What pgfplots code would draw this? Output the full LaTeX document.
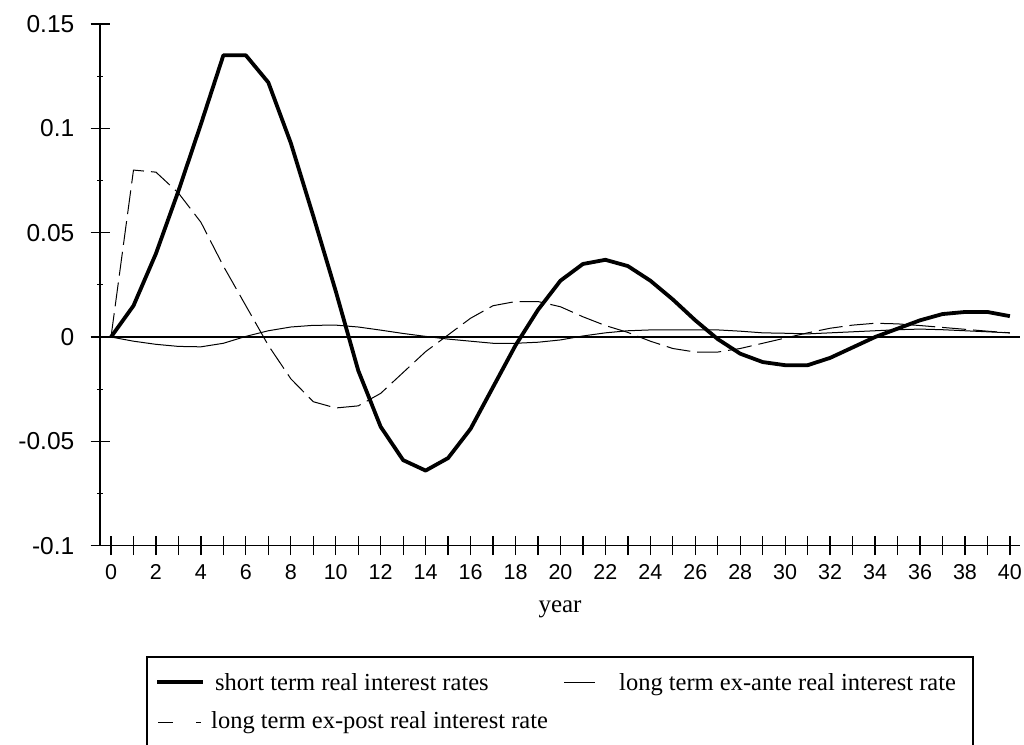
\documentclass[border=0pt]{standalone}
\usepackage{fontspec}
\setmainfont{Liberation Serif}
\newfontfamily\tickfont{Liberation Sans}
\usepackage{pgfplots}
\usepackage{pgfplotstable}
\pgfplotsset{compat=1.18}
\pgfplotstableread{
x short ante post
0 0 0 0
1 0.015 -0.002 0.080
2 0.040 -0.0035 0.079
3 0.070 -0.0045 0.069
4 0.102 -0.0047 0.055
5 0.135 -0.003 0.034
6 0.135 0.0003 0.015
7 0.122 0.003 -0.004
8 0.093 0.0048 -0.020
9 0.058 0.0056 -0.031
10 0.022 0.0057 -0.034
11 -0.016 0.0048 -0.033
12 -0.043 0.0033 -0.027
13 -0.059 0.0017 -0.017
14 -0.064 0.0003 -0.007
15 -0.058 -0.001 0.001
16 -0.044 -0.002 0.009
17 -0.024 -0.003 0.015
18 -0.004 -0.003 0.017
19 0.013 -0.0025 0.017
20 0.027 -0.0014 0.0145
21 0.035 0.0005 0.0097
22 0.037 0.002 0.0055
23 0.034 0.003 0.0022
24 0.027 0.0034 -0.002
25 0.018 0.0034 -0.0055
26 0.008 0.0034 -0.0072
27 -0.001 0.0034 -0.0072
28 -0.008 0.0028 -0.0055
29 -0.012 0.002 -0.003
30 -0.0135 0.0018 -0.0005
31 -0.0135 0.0015 0.002
32 -0.010 0.002 0.0042
33 -0.005 0.0025 0.0057
34 0.000 0.003 0.0066
35 0.004 0.0035 0.0063
36 0.008 0.0038 0.0055
37 0.011 0.0035 0.0046
38 0.012 0.003 0.0037
39 0.012 0.0025 0.0028
40 0.010 0.002 0.002
}\datatable
\begin{document}
\begin{tikzpicture}[x=1pt,y=1pt]
\path[use as bounding box] (0,0) rectangle (1024,744);
\begin{axis}[
  at={(100pt,198.3pt)}, anchor=south west,
  scale only axis, width=920pt, height=521.7pt,
  xmin=-0.49, xmax=40.45, ymin=-0.1, ymax=0.15,
  axis x line=bottom, axis y line=left,
  axis line style={-, line width=1.3pt, black},
  every tick/.style={black, line width=1.3pt},
  tick align=center,
  major tick length=19pt, minor tick length=6pt,
  xtick={0,...,40},
  xticklabels={0,,2,,4,,6,,8,,10,,12,,14,,16,,18,,20,,22,,24,,26,,28,,30,,32,,34,,36,,38,,40},
  ytick={-0.1,-0.05,0,0.05,0.1,0.15},
  yticklabels={-0.1,-0.05,0,0.05,0.1,0.15},
  minor ytick={-0.075,-0.025,0.025,0.075,0.125},
  scaled y ticks=false,
  yticklabel style={font=\tickfont\fontsize{24.5}{28}\selectfont, inner sep=0pt, anchor=east, xshift=-16pt},
  xticklabel style={font=\tickfont\fontsize{21.5}{25}\selectfont, inner sep=0pt, anchor=north, yshift=-9pt},
  xlabel={year},
  xlabel style={font=\fontsize{25}{30}\selectfont, at={(axis description cs:0.5,0)}, anchor=base, yshift=-66.3pt, inner sep=0pt},
  clip=false,
]
\addplot[black, line width=1.3pt, forget plot] coordinates {(-0.49,0) (40.45,0)};
\addplot[black, line width=1pt, dash pattern=on 24pt off 7pt] table[x=x, y=post] {\datatable};
\addplot[black, line width=1pt] table[x=x, y=ante] {\datatable};
\addplot[black, line width=3.8pt, line join=round] table[x=x, y=short] {\datatable};
\end{axis}
% legend
\draw[line width=1.3pt] (147,-10) -- (147,87) -- (973,87) -- (973,-10);
\draw[line width=3.8pt] (157,62) -- (203,62);
\node[anchor=base west, inner sep=0pt, font=\fontsize{24.5}{28}\selectfont] at (215,54) {short term real interest rates};
\draw[line width=1pt] (564,62) -- (595,62);
\node[anchor=base west, inner sep=0pt, font=\fontsize{24.5}{28}\selectfont] at (619,54) {long term ex-ante real interest rate};
\draw[line width=1pt] (158,22) -- (173,22);
\draw[line width=1pt] (196,22) -- (201,22);
\node[anchor=base west, inner sep=0pt, font=\fontsize{24.5}{28}\selectfont] at (211,16) {long term ex-post real interest rate};
\end{tikzpicture}
\end{document}
